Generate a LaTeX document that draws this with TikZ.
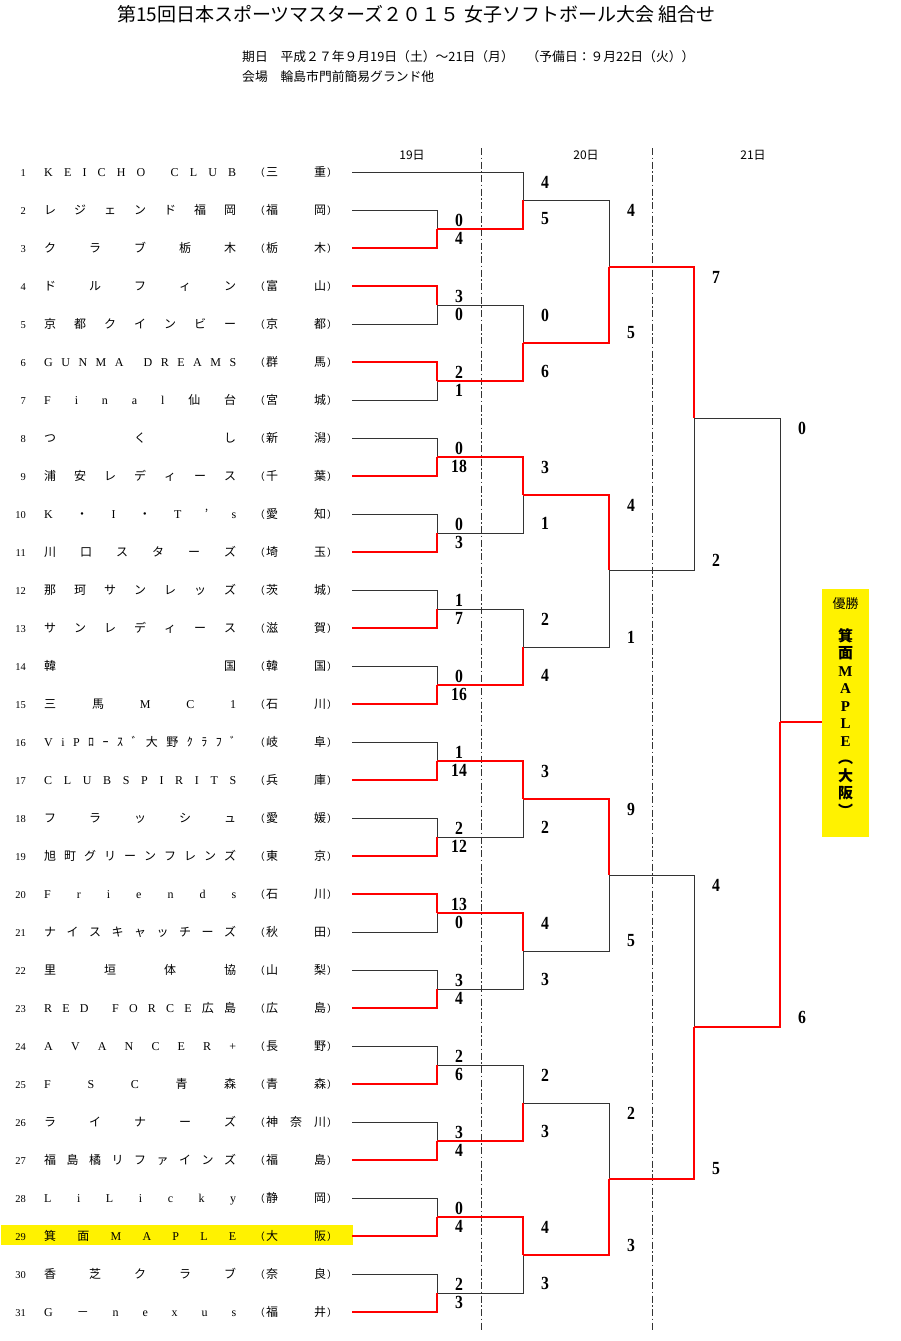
\documentclass[tikz,border=0pt]{standalone}
\usepackage{fontspec}
\setmainfont{Liberation Serif}
\newfontfamily\cjkfont{Noto Sans CJK JP}
\newfontfamily\latinfont{Liberation Serif}
\newfontfamily\scorefont{Liberation Serif}[FakeStretch=0.85]

% one slot per character, spread over the given width
\makeatletter
\newcommand\pickchar[1]{{\ifnum`#1<"2000 \latinfont\else\cjkfont\fi#1}}
\def\spread@first#1{\pickchar{#1}\spread@rest}
\def\spread@rest#1{\ifx#1\relax\else\hfill\pickchar{#1}\expandafter\spread@rest\fi}
\newcommand\spreadname[2]{\makebox[#1][s]{\expandafter\spread@first#2\relax}}
\makeatother

\begin{document}
\begin{tikzpicture}[x=1pt, y=-1pt,
    every node/.style={inner sep=0pt},
    lose/.style={draw=black!80, line width=0.9pt},
    win/.style={draw=red, line width=2.2pt},
    dayline/.style={draw=black!80, line width=0.7pt, dash pattern=on 7pt off 2.5pt on 1.5pt off 2.5pt},
    score/.style={pos=0.5, xshift=22pt, font=\scorefont\bfseries\fontsize{18.5}{18.5}\selectfont},
    rowtext/.style={font=\fontsize{12}{12}\selectfont},
    teamno/.style={font=\latinfont\fontsize{10.5}{10.5}\selectfont},
    champbox/.style={fill=yellow, minimum width=47pt, minimum height=248pt},
    champch/.style={font=\bfseries\fontsize{15}{15}\selectfont, text height=10pt, text depth=2pt}]
    \path[use as bounding box, fill=white] (0,0) rectangle (900,1341);

    % heading
    \node[anchor=west, font=\cjkfont\fontsize{19}{19}\selectfont] (title) at (117,14)
        {第15回日本スポーツマスターズ２０１５ 女子ソフトボール大会 組合せ};
    \node[anchor=west, font=\cjkfont\fontsize{12.8}{12.8}\selectfont] (date) at (242,57)
        {期日　平成２７年９月19日（土）～21日（月）　（予備日：９月22日（火））};
    \node[anchor=west, font=\cjkfont\fontsize{12.8}{12.8}\selectfont] (venue) at (242,77)
        {会場　輪島市門前簡易グランド他};

    % days
    \node[font=\cjkfont\fontsize{12}{12}\selectfont] (day19) at (412,155) {19日};
    \node[font=\cjkfont\fontsize{12}{12}\selectfont] (day20) at (586,155) {20日};
    \node[font=\cjkfont\fontsize{12}{12}\selectfont] (day21) at (753,155) {21日};
    \draw[dayline] (481,148) -- (481,1330);
    \draw[dayline] (652,148) -- (652,1330);

    % winner row
    \fill[yellow] (1,1225) rectangle (353,1245);

    % teams
    \foreach \i/\nm/\pf in {1/KEICHO~CLUB/三重, 2/レジェンド福岡/福岡, 3/クラブ栃木/栃木,
        4/ドルフィン/富山, 5/京都クインビー/京都, 6/GUNMA~DREAMS/群馬, 7/Final仙台/宮城,
        8/つくし/新潟, 9/浦安レディース/千葉, 10/K・I・T’s/愛知, 11/川口スターズ/埼玉,
        12/那珂サンレッズ/茨城, 13/サンレディース/滋賀, 14/韓国/韓国, 15/三馬MC1/石川,
        16/ViPﾛｰｽﾞ大野ｸﾗﾌﾞ/岐阜, 17/CLUB SPIRITS/兵庫, 18/フラッシュ/愛媛,
        19/旭町グリーンフレンズ/東京, 20/Friends/石川, 21/ナイスキャッチーズ/秋田,
        22/里垣体協/山梨, 23/RED~FORCE広島/広島, 24/AVANCER+/長野, 25/FSC青森/青森,
        26/ライナーズ/神奈川, 27/福島橘リファインズ/福島, 28/LiLicky/静岡,
        29/箕面MAPLE/大阪, 30/香芝クラブ/奈良, 31/G－nexus/福井} {
        \node[teamno, anchor=base east] (no\i) at (26,138+38*\i) {\i};
        \node[rowtext, anchor=base west] (nm\i) at (44,138.5+38*\i) {\spreadname{192pt}{\nm}};
        \node[rowtext, anchor=base east, font=\cjkfont] (lp\i) at (265,138.5+38*\i) {（};
        \node[rowtext, anchor=base west] (pf\i) at (266,138.5+38*\i) {\spreadname{60pt}{\pf}};
        \node[rowtext, anchor=base west, font=\cjkfont] (rp\i) at (327,138.5+38*\i) {）};
        \coordinate (t\i) at (352,134+38*\i);
    }

    % match points: a = 19th, b, c = 20th, d, f = 21st
    \foreach \k in {1,...,15}
        \coordinate (a\k) at (437,153+76*\k);
    \foreach \n/\x/\y in {b1/523/200, b2/523/343, b3/523/495, b4/523/647, b5/523/799,
        b6/523/951, b7/523/1103, b8/523/1255, c1/609/267, c2/609/570, c3/609/875,
        c4/609/1179, d1/694/418, d2/694/1027, f/780/722}
        \coordinate (\n) at (\x,\y);

    % losing sides
    \foreach \c/\p/\s/\dy in {t1/b1/4/-10pt, t2/a1/0/-10pt, t5/a2/0/10pt, t7/a3/1/10pt,
        t8/a4/0/-10pt, t10/a5/0/-10pt, t12/a6/1/-10pt, t14/a7/0/-10pt, t16/a8/1/-10pt,
        t18/a9/2/-10pt, t21/a10/0/10pt, t22/a11/3/-10pt, t24/a12/2/-10pt, t26/a13/3/-10pt,
        t28/a14/0/-10pt, t30/a15/2/-10pt, a2/b2/0/-10pt, a5/b3/1/10pt, a6/b4/2/-10pt,
        a9/b5/2/10pt, a11/b6/3/10pt, a12/b7/2/-10pt, a15/b8/3/10pt, b1/c1/4/-10pt,
        b4/c2/1/10pt, b6/c3/5/10pt, b7/c4/2/-10pt, c2/d1/2/10pt, c3/d2/4/-10pt, d1/f/0/-10pt}
        \draw[lose] (\c) -| node[score, yshift=\dy] {\s} (\p);

    % winning sides
    \foreach \c/\p/\s/\dy in {t3/a1/4/10pt, t4/a2/3/-10pt, t6/a3/2/-10pt, t9/a4/18/10pt,
        t11/a5/3/10pt, t13/a6/7/10pt, t15/a7/16/10pt, t17/a8/14/10pt, t19/a9/12/10pt,
        t20/a10/13/-10pt, t23/a11/4/10pt, t25/a12/6/10pt, t27/a13/4/10pt, t29/a14/4/10pt,
        t31/a15/3/10pt, a1/b1/5/10pt, a3/b2/6/10pt, a4/b3/3/-10pt, a7/b4/4/10pt,
        a8/b5/3/-10pt, a10/b6/4/-10pt, a13/b7/3/10pt, a14/b8/4/-10pt, b2/c1/5/10pt,
        b3/c2/4/-10pt, b5/c3/9/-10pt, b8/c4/3/10pt, c1/d1/7/-10pt, c4/d2/5/10pt, d2/f/6/10pt}
        \draw[win] (\c) -| node[score, yshift=\dy] {\s} (\p);

    % champion
    \node[champbox] (champ) at (845.5,713) {};
    \draw[win] (f) -- (f -| champ.west);
    \node[font=\cjkfont\fontsize{13}{13}\selectfont] (yusho) at (845.5,604) {優勝};
    \foreach \ch [count=\k from 0] in {箕,面,M,A,P,L,E,︵,大,阪,︶}
        \node[champch] (cc\k) at (845.5,637+17.5*\k) {\expandafter\pickchar\expandafter{\ch}};
\end{tikzpicture}
\end{document}
